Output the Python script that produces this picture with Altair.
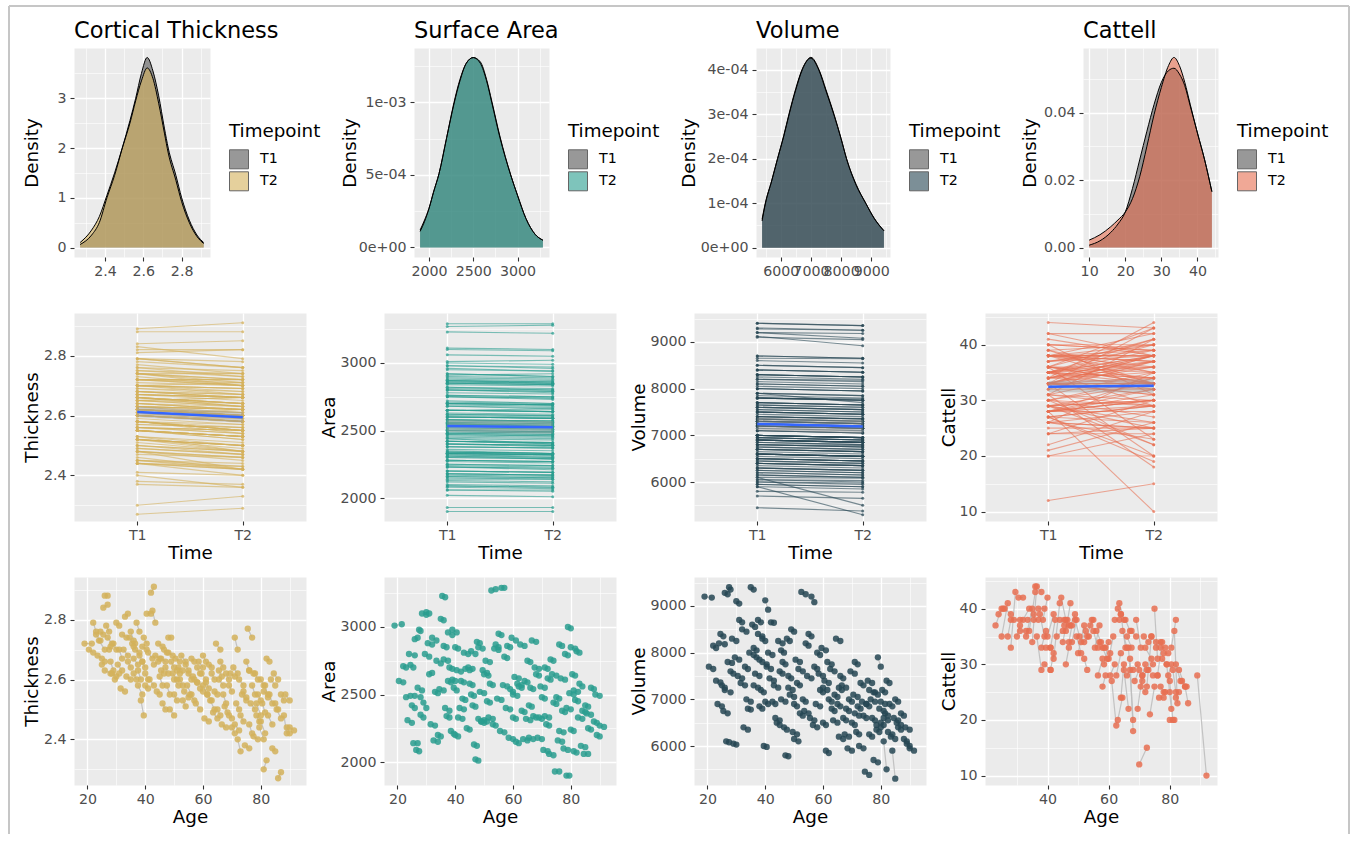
import altair as alt
import pandas as pd

FONT = "DejaVu Sans"
TICK_FS = 14.2
TITLE_FS = 18.3
HEAD_FS = 22.5
GRID_MAJOR = 1.3
GRID_MINOR = 0.6

THICK_COLOR = "#D4B15B"
AREA_COLOR = "#2A9D8F"
VOL_COLOR = "#264653"
CATT_COLOR = "#E76F51"
T1_FILL = "#555555"
PAIR_LINE = "#BEBEBE"
MEAN_LINE = "#3366FF"
FRAME_COLOR = "#C6C6C6"

# ---------------- density curves (value grid, density at T1 / T2) ----------------
THICK_GRID = [2.27, 2.33, 2.37, 2.41, 2.45, 2.49, 2.53, 2.56, 2.59, 2.62, 2.65, 2.68, 2.71, 2.73, 2.77, 2.80, 2.84, 2.88, 2.915]
THICK_DENS_T1 = [0.06, 0.25, 0.50, 1.00, 1.45, 2.00, 2.55, 3.00, 3.50, 3.82, 3.55, 3.05, 2.40, 2.00, 1.45, 1.00, 0.55, 0.25, 0.10]
THICK_DENS_T2 = [0.10, 0.35, 0.62, 1.05, 1.50, 2.00, 2.50, 2.95, 3.35, 3.61, 3.40, 2.90, 2.30, 1.90, 1.35, 0.92, 0.50, 0.22, 0.08]

AREA_GRID = [1899, 1950, 2000, 2050, 2113, 2200, 2282, 2350, 2420, 2500, 2580, 2650, 2709, 2800, 2923, 3000, 3095, 3200, 3287]
AREA_DENS_T1 = [1.2e-4, 1.9e-4, 2.7e-4, 3.8e-4, 5.1e-4, 7.6e-4, 1.0e-3, 1.16e-3, 1.27e-3, 1.31e-3, 1.27e-3, 1.15e-3, 1.0e-3, 7.6e-4, 5.0e-4, 3.6e-4, 2.0e-4, 9e-5, 5e-5]
AREA_DENS_T2 = [1.1e-4, 1.8e-4, 2.7e-4, 3.8e-4, 5.1e-4, 7.6e-4, 9.9e-4, 1.15e-3, 1.27e-3, 1.31e-3, 1.28e-3, 1.16e-3, 1.01e-3, 7.7e-4, 5.0e-4, 3.6e-4, 2.0e-4, 9e-5, 5e-5]

VOL_GRID = [5384, 5490, 5700, 5895, 6100, 6280, 6500, 6715, 7000, 7270, 7500, 7765, 8000, 8180, 8500, 8815, 9100, 9418]
VOL_DENS_T1 = [6.4e-5, 1.0e-4, 1.5e-4, 2.0e-4, 2.5e-4, 3.0e-4, 3.55e-4, 4.0e-4, 4.28e-4, 4.0e-4, 3.55e-4, 3.0e-4, 2.45e-4, 2.0e-4, 1.4e-4, 1.0e-4, 6.5e-5, 3.8e-5]
VOL_DENS_T2 = [6.0e-5, 9.8e-5, 1.5e-4, 2.0e-4, 2.52e-4, 3.02e-4, 3.58e-4, 4.02e-4, 4.26e-4, 3.98e-4, 3.52e-4, 2.98e-4, 2.45e-4, 2.0e-4, 1.42e-4, 1.0e-4, 6.6e-5, 3.8e-5]

CATT_GRID = [10, 13, 16, 18, 20, 22, 24, 26, 28, 30, 32, 33.5, 35, 36.5, 38, 40, 42, 44]
CATT_DENS_T1 = [0.0007, 0.0020, 0.0045, 0.0070, 0.0105, 0.0175, 0.0260, 0.0345, 0.0425, 0.0490, 0.0525, 0.0532, 0.0515, 0.0480, 0.0420, 0.0340, 0.0260, 0.0166]
CATT_DENS_T2 = [0.0022, 0.0038, 0.0062, 0.0082, 0.0105, 0.0145, 0.0210, 0.0300, 0.0395, 0.0475, 0.0540, 0.0564, 0.0540, 0.0490, 0.0425, 0.0340, 0.0260, 0.0166]

# ---------------- MRI sample: age and measures at both timepoints ----------------
AGE_T1 = [19.0, 22.0, 23.0, 23.5, 24.0, 25.0, 25.5, 26.0, 26.5, 27.0,
          27.5, 28.0, 28.5, 29.0, 29.5, 30.0, 31.0, 31.5, 32.0, 33.0,
          33.5, 34.0, 35.0, 35.5, 36.0, 36.5, 37.0, 37.5, 38.0, 38.5,
          39.0, 39.5, 40.0, 40.5, 41.0, 42.0, 42.5, 43.0, 44.0, 44.5,
          45.0, 45.5, 46.0, 46.5, 47.0, 47.5, 48.0, 48.5, 49.0, 49.5,
          50.0, 50.5, 51.0, 52.0, 52.5, 53.0, 54.0, 54.5, 55.0, 55.5,
          56.0, 57.0, 57.5, 58.0, 59.0, 59.5, 60.0, 60.5, 61.0, 62.0,
          62.5, 63.0, 64.0, 64.5, 65.0, 65.5, 66.0, 66.5, 67.0, 68.0,
          68.5, 69.0, 70.0, 70.5, 71.0, 71.5, 72.0, 72.5, 73.0, 74.0,
          74.5, 75.0, 75.5, 76.0, 76.5, 77.0, 77.5, 78.0, 78.5, 79.0,
          79.5, 80.0, 80.5, 81.0, 81.5, 82.0, 82.5, 83.0, 84.0, 84.5,
          85.0, 86.0, 87.0, 88.0, 89.0, 90.0,
          20.5, 24.5, 26.0, 30.5, 32.5, 34.5, 36.0, 37.5, 39.0, 41.5,
          43.5, 45.5, 48.0, 50.0, 51.5, 53.5, 56.5, 58.5, 61.5, 63.5,
          65.5, 67.5, 69.5, 71.0, 73.5, 76.0, 78.5, 80.0, 81.0, 83.5,
          85.5, 88.5, 40.0, 60.0]
AGE_T2 = [21.5, 23.0, 24.5, 25.0, 26.0, 26.0, 27.0, 27.0, 27.5, 28.5,
          28.0, 29.0, 30.0, 30.0, 31.0, 31.0, 32.0, 33.0, 33.5, 34.0,
          35.0, 35.0, 36.0, 36.5, 37.0, 38.0, 38.0, 39.0, 39.0, 39.5,
          40.0, 40.5, 41.0, 42.0, 42.5, 43.0, 43.5, 44.5, 45.0, 46.0,
          46.0, 47.0, 47.0, 47.5, 48.0, 48.5, 49.0, 50.0, 50.0, 51.0,
          51.0, 52.0, 52.0, 53.0, 54.0, 54.0, 55.0, 56.0, 56.0, 57.0,
          57.0, 58.0, 59.0, 59.0, 60.0, 61.0, 61.0, 62.0, 62.0, 63.0,
          64.0, 64.0, 65.0, 66.0, 66.0, 67.0, 67.0, 68.0, 68.0, 69.0,
          70.0, 70.0, 71.0, 72.0, 72.0, 72.5, 73.0, 74.0, 74.0, 75.0,
          76.0, 76.0, 77.0, 77.0, 78.0, 78.0, 79.0, 79.0, 79.5, 80.0,
          81.0, 81.0, 81.5, 82.0, 82.5, 83.0, 84.0, 84.0, 85.0, 86.0,
          86.0, 87.0, 88.0, 89.0, 90.0, 91.5,
          22.0, 25.5, 28.0, 32.0, 34.0, 36.0, 37.5, 38.5, 40.5, 43.0,
          45.0, 46.5, 49.5, 51.5, 53.0, 55.0, 58.0, 60.0, 63.0, 65.0,
          66.5, 69.0, 71.0, 72.5, 75.0, 77.5, 80.0, 81.5, 82.5, 85.0,
          87.0, 90.0, 41.0, 61.5]

THICK_T1 = [2.72, 2.79, 2.75, 2.68, 2.73, 2.65, 2.84, 2.88, 2.78, 2.74,
            2.70, 2.66, 2.62, 2.72, 2.60, 2.79, 2.70, 2.57, 2.75, 2.81,
            2.61, 2.66, 2.76, 2.72, 2.62, 2.70, 2.79, 2.58, 2.68, 2.53,
            2.66, 2.74, 2.62, 2.82, 2.69, 2.89, 2.83, 2.65, 2.56, 2.72,
            2.61, 2.67, 2.52, 2.70, 2.64, 2.58, 2.74, 2.50, 2.66, 2.62,
            2.55, 2.67, 2.63, 2.60, 2.68, 2.53, 2.65, 2.58, 2.62, 2.55,
            2.67, 2.60, 2.52, 2.64, 2.57, 2.62, 2.68, 2.47, 2.59, 2.65,
            2.53, 2.62, 2.56, 2.72, 2.50, 2.60, 2.66, 2.45, 2.55, 2.62,
            2.49, 2.58, 2.44, 2.64, 2.74, 2.52, 2.40, 2.60, 2.48, 2.56,
            2.38, 2.66, 2.77, 2.45, 2.52, 2.58, 2.41, 2.62, 2.48, 2.55,
            2.44, 2.60, 2.52, 2.30, 2.58, 2.67, 2.48, 2.55, 2.37, 2.62,
            2.52, 2.27, 2.55, 2.48, 2.44, 2.44,
            2.70, 2.76, 2.63, 2.65, 2.70, 2.74, 2.67, 2.63, 2.71, 2.60,
            2.68, 2.63, 2.69, 2.60, 2.64, 2.56, 2.61, 2.66, 2.55, 2.49,
            2.63, 2.51, 2.62, 2.45, 2.55, 2.63, 2.52, 2.46, 2.56, 2.60,
            2.50, 2.55, 2.58, 2.58]
THICK_T2 = [2.72, 2.76, 2.73, 2.67, 2.70, 2.66, 2.85, 2.88, 2.76, 2.72,
            2.71, 2.63, 2.61, 2.70, 2.62, 2.78, 2.67, 2.56, 2.74, 2.82,
            2.60, 2.64, 2.73, 2.72, 2.60, 2.69, 2.76, 2.55, 2.66, 2.48,
            2.64, 2.72, 2.60, 2.82, 2.67, 2.91, 2.79, 2.66, 2.55, 2.71,
            2.58, 2.66, 2.50, 2.69, 2.62, 2.55, 2.74, 2.48, 2.64, 2.60,
            2.53, 2.66, 2.62, 2.58, 2.66, 2.51, 2.63, 2.55, 2.60, 2.53,
            2.66, 2.59, 2.50, 2.62, 2.56, 2.60, 2.66, 2.46, 2.57, 2.64,
            2.50, 2.60, 2.55, 2.70, 2.48, 2.58, 2.64, 2.44, 2.52, 2.60,
            2.47, 2.56, 2.42, 2.62, 2.70, 2.50, 2.36, 2.58, 2.46, 2.54,
            2.37, 2.63, 2.74, 2.42, 2.50, 2.55, 2.40, 2.60, 2.46, 2.53,
            2.40, 2.58, 2.49, 2.33, 2.54, 2.66, 2.45, 2.52, 2.36, 2.60,
            2.50, 2.29, 2.53, 2.42, 2.42, 2.43,
            2.69, 2.75, 2.62, 2.63, 2.68, 2.71, 2.65, 2.60, 2.70, 2.58,
            2.67, 2.62, 2.68, 2.58, 2.63, 2.54, 2.59, 2.64, 2.53, 2.47,
            2.61, 2.48, 2.61, 2.43, 2.53, 2.62, 2.48, 2.42, 2.55, 2.58,
            2.47, 2.53, 2.57, 2.55]

AREA_T1 = [3010, 2710, 2480, 2310, 2800, 2420, 2140, 2910, 2090, 2550,
           2980, 2350, 3100, 2440, 2800, 3110, 2650, 2280, 2920, 2520,
           2750, 2200, 3060, 3230, 2860, 2400, 2340, 2960, 2700, 2230,
           2610, 2550, 2200, 2680, 2330, 2600, 2470, 2810, 2250, 2700,
           2580, 2820, 2420, 2130, 2020, 2890, 2320, 2520, 2300, 2680,
           2310, 2750, 2450, 2580, 3270, 2280, 2870, 2470, 2950, 2230,
           3290, 2780, 2400, 2860, 2540, 2920, 2330, 2630, 2150, 2560,
           2870, 2380, 2600, 2320, 2750, 2180, 2550, 2900, 2340, 2650,
           2180, 2330, 2480, 2090, 2700, 2280, 2620, 2060, 2760, 2440,
           1930, 2480, 2160, 2870, 2620, 2380, 2100, 2800, 1900, 3000,
           2510, 2240, 2650, 2080, 2460, 2820, 2330, 2580, 2380, 2060,
           2420, 2250, 2550, 2300, 2200, 2270,
           2600, 2720, 2490, 2880, 2160, 2540, 2760, 2600, 2980, 2400,
           2690, 2500, 2850, 2650, 2330, 2840, 2570, 2180, 2580, 2170,
           2420, 2700, 2560, 2340, 2650, 2230, 2400, 2850, 2530, 2120,
           2360, 2500, 2850, 2500]
AREA_T2 = [3020, 2700, 2490, 2290, 2790, 2400, 2140, 2920, 2080, 2530,
           2970, 2330, 3090, 2400, 2780, 3100, 2660, 2270, 2900, 2510,
           2730, 2190, 3050, 3220, 2850, 2380, 2330, 2940, 2690, 2210,
           2600, 2530, 2190, 2670, 2320, 2590, 2460, 2800, 2240, 2690,
           2570, 2800, 2410, 2120, 2010, 2880, 2300, 2510, 2290, 2660,
           2300, 2740, 2440, 2570, 3280, 2270, 2850, 2460, 2940, 2220,
           3290, 2770, 2390, 2850, 2520, 2900, 2320, 2620, 2140, 2550,
           2860, 2370, 2590, 2310, 2740, 2170, 2540, 2890, 2330, 2640,
           2170, 2320, 2470, 2080, 2690, 2270, 2610, 2050, 2750, 2430,
           1930, 2470, 2150, 2860, 2610, 2370, 2090, 2790, 1900, 2990,
           2500, 2230, 2640, 2070, 2450, 2810, 2320, 2560, 2370, 2060,
           2410, 2240, 2540, 2290, 2190, 2260,
           2590, 2700, 2480, 2870, 2150, 2530, 2750, 2590, 2960, 2390,
           2680, 2490, 2840, 2640, 2320, 2830, 2560, 2170, 2570, 2160,
           2410, 2690, 2550, 2330, 2640, 2220, 2390, 2840, 2520, 2110,
           2350, 2490, 2840, 2490]

VOL_T1 = [9200, 8150, 7400, 6900, 8200, 7300, 6750, 9280, 6100, 7800,
          9400, 7600, 8300, 6050, 7900, 9100, 8700, 7350, 8500, 7700,
          7000, 6800, 9400, 8600, 8100, 7550, 7900, 8400, 6850, 7200,
          8300, 6000, 9120, 7700, 8000, 8650, 6950, 7300, 6500, 8250,
          7600, 7000, 7800, 6400, 5800, 8300, 7500, 7100, 8500, 6300,
          6900, 7850, 7350, 6700, 9300, 7000, 8200, 7500, 8400, 6600,
          9200, 7700, 6900, 8000, 7200, 8100, 6500, 7400, 5900, 7000,
          7650, 6800, 7100, 8300, 6900, 6200, 7500, 7300, 6600, 6800,
          5950, 7000, 6500, 7100, 7800, 6300, 6850, 6000, 7350, 6650,
          5450, 6900, 7400, 6250, 7000, 6600, 5700, 7150, 6350, 7900,
          6800, 6500, 7200, 6100, 6700, 7400, 6300, 6900, 5900, 6600,
          7000, 6400, 6700, 6150, 6050, 5950,
          7700, 8400, 7200, 7500, 6400, 8000, 7300, 8700, 7800, 7450,
          6600, 8050, 7250, 6150, 7650, 6750, 6450, 7550, 7800, 6550,
          7250, 6250, 7600, 6700, 6950, 7200, 6450, 6950, 6600, 6200,
          6500, 6400, 6950, 7250]
VOL_T2 = [9180, 8100, 7360, 6850, 8180, 7250, 6700, 9250, 6080, 7780,
          9350, 7550, 8250, 6030, 7850, 9050, 8650, 7300, 8450, 7650,
          6950, 6780, 9350, 8550, 8050, 7500, 7850, 8350, 6800, 7150,
          8250, 5980, 8920, 7650, 7950, 8640, 6900, 7250, 6450, 8200,
          7550, 6950, 7750, 6350, 5780, 8250, 7450, 7050, 8450, 6250,
          6850, 7800, 7300, 6650, 9250, 6950, 8150, 7450, 8350, 6550,
          9080, 7650, 6850, 7950, 7150, 8050, 6450, 7350, 5850, 6950,
          7600, 6750, 7050, 8250, 6850, 6150, 7450, 7250, 6550, 6750,
          5900, 6950, 6450, 7050, 7750, 6250, 6800, 5950, 7300, 6600,
          5380, 6850, 7350, 6200, 6950, 6550, 5650, 7100, 6300, 7700,
          6750, 6450, 7150, 5500, 6650, 7350, 6250, 6850, 5300, 6550,
          6950, 6350, 6650, 6100, 6000, 5900,
          7650, 8350, 7150, 7450, 6350, 7950, 7250, 8650, 7750, 7400,
          6550, 8000, 7200, 6100, 7600, 6700, 6400, 7500, 7750, 6500,
          7200, 6200, 7550, 6650, 6900, 7150, 6400, 6900, 6550, 6150,
          6450, 6350, 6900, 7200]

# ---------------- cognitive sample: age and Cattell score at both timepoints ----------------
COG_AGE_T1 = [23, 24, 25, 26, 27, 28, 29, 30, 31, 32,
              33, 34, 35, 35.5, 36, 36.5, 37, 37.5, 38, 38.5,
              39, 39.5, 40, 41, 42, 43, 44, 45, 45.5, 46,
              47, 47.5, 48, 49, 49.5, 50, 51, 52, 54, 55,
              55.5, 56, 57, 58, 58.5, 59, 60, 61, 62, 63,
              63.5, 64, 64.5, 65, 65.5, 66, 66.5, 67, 67.5, 68,
              68.5, 69, 70, 70.5, 71, 71.5, 72, 72.5, 73, 74,
              75, 75.5, 76, 77, 77.5, 78, 79, 79.5, 80, 80.5,
              81, 81.5, 82, 83, 84, 89, 30.5, 33.5, 44.5, 53,
              60.5, 62.5, 64, 66, 69.5, 71, 73.5, 74.5, 76.5, 78.5,
              80, 82, 58, 56.5, 52, 46, 41, 63, 77, 85]
COG_AGE_T2 = [25, 25.5, 27, 28, 28, 29.5, 31, 31, 33, 34,
              35, 36, 36.5, 37, 38, 38, 39, 39, 39.5, 40,
              41, 41, 42, 42.5, 44, 45, 45.5, 46.5, 47, 47.5,
              48, 49, 49.5, 50.5, 51, 52, 52.5, 53.5, 55, 56.5,
              57, 57.5, 58.5, 59.5, 60, 60.5, 61.5, 62.5, 63.5, 64,
              65, 65.5, 66, 66.5, 67, 67.5, 68, 68, 69, 69.5,
              70, 70.5, 72.5, 72, 72.5, 73, 74, 74, 74.5, 75.5,
              76, 77, 77.5, 78.5, 79, 79.5, 80.5, 80.5, 81, 82,
              82, 82.5, 83.5, 85, 85.5, 92, 32, 35.5, 46, 54.5,
              62, 64, 65, 67, 71, 72, 75, 76, 78, 80,
              81.5, 83, 59, 58, 53, 47, 42, 64.5, 78, 86]
CATTELL_T1 = [37, 39, 35, 40, 35, 33, 38, 35, 36, 38,
              35, 36, 34, 38, 44, 35, 40, 39, 33, 38,
              30, 33, 35, 33, 31, 35, 38, 34, 38, 36,
              34, 37, 34, 38, 35, 32, 34, 34, 37, 36,
              33, 36, 34, 33, 30, 33, 31, 27, 38, 40,
              41, 39, 36, 29, 38, 35, 33, 31, 36, 29,
              27, 38, 12, 26, 27, 35, 33, 26, 29, 35,
              40, 33, 28, 33, 31, 32, 30, 28, 27, 33,
              29, 36, 30, 29, 27, 28, 42, 38, 42, 35,
              28, 28, 24, 28, 22, 28, 21, 28, 24, 25,
              20, 24, 26, 28, 31, 30, 29, 20, 26, 26]
CATTELL_T2 = [40, 40, 41, 39, 38, 43, 38, 37, 36, 40,
              40, 43, 44, 38, 43, 29, 40, 35, 36, 42,
              29, 33, 39, 38, 41, 36, 37, 38, 37, 41,
              37, 39, 38, 35, 32, 37, 36, 35, 38, 33,
              37, 34, 33, 31, 34, 32, 35, 19, 38, 39,
              38, 33, 33, 22, 36, 33, 20, 18, 35, 30,
              29, 33, 15, 25, 29, 34, 31, 35, 30, 34,
              31, 34, 34, 33, 30, 32, 22, 30, 20, 38,
              25, 23, 27, 26, 26, 10, 42, 39, 38, 38,
              30, 32, 30, 29, 28, 30, 26, 28, 24, 25,
              20, 25, 28, 31, 29, 33, 32, 24, 25, 23]

SCI_LABEL = "replace(replace(format(datum.value, '.0e'), 'e-', 'e-0'), 'e+', 'e+0')"


def long_frame(age1, age2, v1, v2):
    n = len(v1)
    return pd.DataFrame({
        "subject": list(range(n)) * 2,
        "Time": ["T1"] * n + ["T2"] * n,
        "age": list(age1) + list(age2),
        "value": list(v1) + list(v2),
    })


def minor_axis(orient, values):
    # thin white lines halfway between the labelled breaks
    return alt.Axis(orient=orient, values=values, grid=True, gridColor="white",
                    gridWidth=GRID_MINOR, labels=False, ticks=False, domain=False,
                    title=None)


def density_panel(title, grid_x, d1, d2, fill, xdom, ydom, xmaj, xmin, xfmt,
                  ymaj, ymin, ylab, extent, width):
    n = len(grid_x)
    df = pd.DataFrame({"value": grid_x + grid_x, "density": d1 + d2,
                       "Timepoint": ["T1"] * n + ["T2"] * n})
    base = alt.Chart(df)
    xsc = alt.Scale(domain=xdom, nice=False, zero=False)
    ysc = alt.Scale(domain=ydom, nice=False, zero=False)
    grid = base.mark_point(opacity=0).encode(
        x=alt.X("value:Q", scale=xsc, axis=minor_axis("top", xmin)),
        y=alt.Y("density:Q", scale=ysc, axis=minor_axis("right", ymin)),
    )
    yaxis = dict(values=ymaj, title="Density", minExtent=extent, maxExtent=extent, grid=True)
    yaxis.update(ylab)
    area = base.mark_area(opacity=0.6, interpolate="monotone").encode(
        x=alt.X("value:Q", scale=xsc,
                axis=alt.Axis(values=xmaj, format=xfmt, title=None, grid=True,
                              labelOverlap=False, labelFlush=False)),
        y=alt.Y("density:Q", scale=ysc, stack=None, axis=alt.Axis(**yaxis)),
        fill=alt.Fill("Timepoint:N",
                      scale=alt.Scale(domain=["T1", "T2"], range=[T1_FILL, fill]),
                      legend=alt.Legend(title="Timepoint", orient="none",
                                        legendX=width + 19, legendY=75,
                                        symbolType="square", symbolSize=361,
                                        symbolStrokeColor="black", symbolStrokeWidth=1,
                                        labelOffset=11, rowPadding=-3, titlePadding=8)),
    )
    outline = base.mark_line(color="black", strokeWidth=1, interpolate="monotone").encode(
        x=alt.X("value:Q", scale=xsc, axis=None),
        y=alt.Y("density:Q", scale=ysc, axis=None),
        detail="Timepoint:N",
    )
    return alt.layer(grid, area, outline).resolve_axis(x="independent", y="independent").properties(
        width=width, height=209,
        title=alt.TitleParams(title, anchor="start", frame="group", fontSize=HEAD_FS,
                              fontWeight="normal", baseline="alphabetic", offset=-12,
                              color="black"),
    )


def spaghetti_panel(df, ylabel, color, ydom, ymaj, ymin, yfmt, extent):
    base = alt.Chart(df)
    xsc = alt.Scale(type="point", domain=["T1", "T2"], padding=0.6)
    ysc = alt.Scale(domain=ydom, nice=False, zero=False)
    grid = base.mark_point(opacity=0).encode(
        x=alt.X("Time:N", scale=xsc, axis=None),
        y=alt.Y("value:Q", scale=ysc, axis=minor_axis("right", ymin)),
    )
    lines = base.mark_line(color=color, strokeWidth=1.1, opacity=0.6).encode(
        x=alt.X("Time:N", scale=xsc, axis=alt.Axis(title="Time", labelAngle=0, grid=True)),
        y=alt.Y("value:Q", scale=ysc,
                axis=alt.Axis(values=ymaj, format=yfmt, title=ylabel, grid=True,
                              minExtent=extent, maxExtent=extent)),
        detail="subject:N",
    )
    dots = base.mark_circle(color=color, size=9, opacity=0.7).encode(
        x=alt.X("Time:N", scale=xsc, axis=None),
        y=alt.Y("value:Q", scale=ysc, axis=None),
    )
    band = base.transform_aggregate(
        m="mean(value)", se="stderr(value)", groupby=["Time"]
    ).transform_calculate(
        lo="datum.m - 1.96 * datum.se", hi="datum.m + 1.96 * datum.se"
    ).mark_area(color="#999999", opacity=0.4).encode(
        x=alt.X("Time:N", scale=xsc, axis=None),
        y=alt.Y("lo:Q", scale=ysc, axis=None),
        y2="hi:Q",
    )
    mean = base.mark_line(color=MEAN_LINE, strokeWidth=2.5).encode(
        x=alt.X("Time:N", scale=xsc, axis=None),
        y=alt.Y("mean(value):Q", scale=ysc, axis=None),
    )
    return alt.layer(grid, lines, dots, band, mean).resolve_axis(
        x="independent", y="independent").properties(width=232, height=208)


def scatter_panel(df, ylabel, color, xdom, xmaj, xmin, ydom, ymaj, ymin, yfmt, extent):
    base = alt.Chart(df)
    xsc = alt.Scale(domain=xdom, nice=False, zero=False)
    ysc = alt.Scale(domain=ydom, nice=False, zero=False)
    grid = base.mark_point(opacity=0).encode(
        x=alt.X("age:Q", scale=xsc, axis=minor_axis("top", xmin)),
        y=alt.Y("value:Q", scale=ysc, axis=minor_axis("right", ymin)),
    )
    pairs = base.mark_line(color=PAIR_LINE, strokeWidth=1.2, opacity=0.9).encode(
        x=alt.X("age:Q", scale=xsc,
                axis=alt.Axis(values=xmaj, format="d", title="Age", grid=True, labelFlush=False)),
        y=alt.Y("value:Q", scale=ysc,
                axis=alt.Axis(values=ymaj, format=yfmt, title=ylabel, grid=True,
                              minExtent=extent, maxExtent=extent)),
        detail="subject:N",
    )
    dots = base.mark_circle(color=color, size=40, opacity=0.85).encode(
        x=alt.X("age:Q", scale=xsc, axis=None),
        y=alt.Y("value:Q", scale=ysc, axis=None),
    )
    return alt.layer(grid, pairs, dots).resolve_axis(
        x="independent", y="independent").properties(width=232, height=208)


# ---------------- row 1: densities ----------------
d_thick = density_panel("Cortical Thickness", THICK_GRID, THICK_DENS_T1, THICK_DENS_T2, THICK_COLOR,
                        [2.238, 2.948], [-0.191, 4.011], [2.4, 2.6, 2.8], [2.3, 2.5, 2.7, 2.9], ".1f",
                        [0, 1, 2, 3], [0.5, 1.5, 2.5, 3.5], {"format": "d"}, 30.7, 136)
d_area = density_panel("Surface Area", AREA_GRID, AREA_DENS_T1, AREA_DENS_T2, AREA_COLOR,
                       [1830, 3356], [-6.6e-5, 1.376e-3], [2000, 2500, 3000], [2250, 2750, 3250], "d",
                       [0, 5e-4, 1e-3], [2.5e-4, 7.5e-4, 1.25e-3], {"labelExpr": SCI_LABEL}, 52.7, 135)
d_vol = density_panel("Volume", VOL_GRID, VOL_DENS_T1, VOL_DENS_T2, VOL_COLOR,
                      [5182, 9619], [-2.1e-5, 4.49e-4], [6000, 7000, 8000, 9000],
                      [5500, 6500, 7500, 8500, 9500], "d",
                      [0, 1e-4, 2e-4, 3e-4, 4e-4], [5e-5, 1.5e-4, 2.5e-4, 3.5e-4],
                      {"labelExpr": SCI_LABEL}, 55.7, 134)
d_catt = density_panel("Cattell", CATT_GRID, CATT_DENS_T1, CATT_DENS_T2, CATT_COLOR,
                       [8.3, 45.7], [-0.0028, 0.0592], [10, 20, 30, 40], [15, 25, 35, 45], "d",
                       [0, 0.02, 0.04], [0.01, 0.03, 0.05], {"format": ".2f"}, 41.7, 135)

thick_df = long_frame(AGE_T1, AGE_T2, THICK_T1, THICK_T2)
area_df = long_frame(AGE_T1, AGE_T2, AREA_T1, AREA_T2)
vol_df = long_frame(AGE_T1, AGE_T2, VOL_T1, VOL_T2)
catt_df = long_frame(COG_AGE_T1, COG_AGE_T2, CATTELL_T1, CATTELL_T2)

# ---------------- row 2: change between timepoints ----------------
s_thick = spaghetti_panel(thick_df, "Thickness", THICK_COLOR, [2.2475, 2.9425],
                          [2.4, 2.6, 2.8], [2.3, 2.5, 2.7, 2.9], ".1f", 30.7)
s_area = spaghetti_panel(area_df, "Area", AREA_COLOR, [1830, 3370],
                         [2000, 2500, 3000], [2250, 2750, 3250], "d", 43.7)
s_vol = spaghetti_panel(vol_df, "Volume", VOL_COLOR, [5165, 9620],
                        [6000, 7000, 8000, 9000], [5500, 6500, 7500, 8500, 9500], "d", 43.7)
s_catt = spaghetti_panel(catt_df, "Cattell", CATT_COLOR, [8.3, 45.7],
                         [10, 20, 30, 40], [15, 25, 35, 45], "d", 24.7)

# ---------------- row 3: measures against age ----------------
AGE_MAJOR = [20, 40, 60, 80]
AGE_MINOR = [30, 50, 70, 90]
a_thick = scatter_panel(thick_df, "Thickness", THICK_COLOR, [15.35, 95.65], AGE_MAJOR, AGE_MINOR,
                        [2.2475, 2.9425], [2.4, 2.6, 2.8], [2.3, 2.5, 2.7, 2.9], ".1f", 30.7)
a_area = scatter_panel(area_df, "Area", AREA_COLOR, [15.35, 95.65], AGE_MAJOR, AGE_MINOR,
                       [1830, 3370], [2000, 2500, 3000], [2250, 2750, 3250], "d", 43.7)
a_vol = scatter_panel(vol_df, "Volume", VOL_COLOR, [15.35, 95.65], AGE_MAJOR, AGE_MINOR,
                      [5165, 9620], [6000, 7000, 8000, 9000], [5500, 6500, 7500, 8500, 9500], "d", 43.7)
a_catt = scatter_panel(catt_df, "Cattell", CATT_COLOR, [19.55, 95.45], [40, 60, 80], AGE_MINOR,
                       [8.3, 45.7], [10, 20, 30, 40], [15, 25, 35, 45], "d", 24.7)

row1 = alt.hconcat(d_thick, d_area, d_vol, d_catt, spacing=17).resolve_scale(fill="independent")
row2 = alt.hconcat(s_thick, s_area, s_vol, s_catt, spacing=11)
row3 = alt.hconcat(a_thick, a_area, a_vol, a_catt, spacing=11)
lower = alt.vconcat(row2, row3, spacing=14)
content = alt.vconcat(row1, lower, spacing=33)

# light page frame around the whole figure
frame_src = pd.DataFrame({"k": [0]})
fb = alt.Chart(frame_src)
frame = alt.layer(
    fb.mark_rule(color=FRAME_COLOR, strokeWidth=2).encode(
        x=alt.value(-65), y=alt.value(-28), y2=alt.value(800)),
    fb.mark_rule(color=FRAME_COLOR, strokeWidth=2).encode(
        x=alt.value(-65), x2=alt.value(1275), y=alt.value(-28)),
    fb.mark_rule(color=FRAME_COLOR, strokeWidth=2).encode(
        x=alt.value(1275), y=alt.value(-28), y2=alt.value(800)),
).properties(width=1, height=1, view=alt.ViewBackground(fill="transparent", stroke="transparent"))

chart = alt.vconcat(frame, content, spacing=13, bounds="flush").properties(
    padding={"left": 7, "top": 4, "right": 0, "bottom": 0}
).configure(
    font=FONT
).configure_view(
    fill="#EBEBEB", stroke="transparent"
).configure_axis(
    labelFontSize=TICK_FS, labelColor="#4D4D4D", titleFontSize=TITLE_FS,
    titleFontWeight="normal", titleColor="black", tickColor="#333333", tickSize=4,
    tickWidth=1.1, gridColor="white", gridWidth=GRID_MAJOR, domain=False, titlePadding=2
).configure_axisX(
    labelPadding=3
).configure_axisY(
    labelPadding=4
).configure_legend(
    titleFontSize=TITLE_FS, labelFontSize=TICK_FS, titleFontWeight="normal",
    titleColor="black", labelColor="black"
)

chart.save("out.html", embed_options={"renderer": "svg", "actions": False})
